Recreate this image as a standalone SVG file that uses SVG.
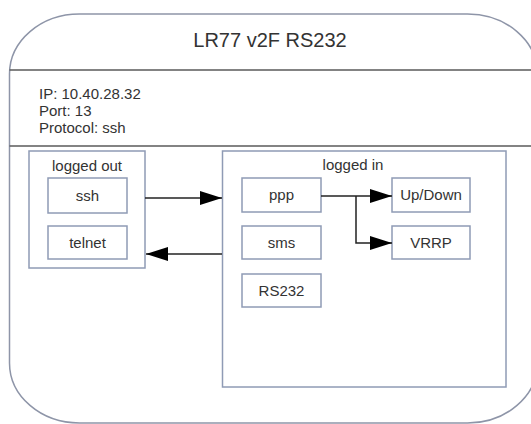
<svg xmlns="http://www.w3.org/2000/svg" width="531" height="424" viewBox="0 0 531 424">
  <style>
    .frame { fill: #ffffff; stroke: #8e95a8; stroke-width: 1.5; }
    .divider { stroke: #5a5a5a; stroke-width: 1.5; }
    .box { fill: #ffffff; stroke: #8f9bb5; stroke-width: 1.5; }
    .txt { font-family: "Liberation Sans", Arial, sans-serif; fill: #333333; }
    .label { font-size: 15px; text-anchor: middle; }
    .title { font-size: 20px; text-anchor: middle; }
    .info { font-size: 15px; }
    .conn { fill: none; stroke: #222222; stroke-width: 1.5; }
  </style>
  <defs>
    <marker id="arrow" viewBox="0 0 22 14" refX="22" refY="7" markerWidth="22" markerHeight="14" markerUnits="userSpaceOnUse" orient="auto">
      <path d="M0,0 L22,7 L0,14 Z" fill="#000000"/>
    </marker>
  </defs>

  <rect width="531" height="424" fill="#ffffff"/>

  <!-- device frame -->
  <g id="device">
    <rect class="frame" x="9.5" y="14" width="528" height="409" rx="70" ry="60"/>
    <line class="divider" x1="9.5" y1="70" x2="531" y2="70"/>
    <line class="divider" x1="9.5" y1="146" x2="531" y2="146"/>
    <text class="txt title" x="270" y="47">LR77 v2F RS232</text>
    <text class="txt info" x="39" y="99">IP: 10.40.28.32</text>
    <text class="txt info" x="39" y="116">Port: 13</text>
    <text class="txt info" x="39" y="133">Protocol: ssh</text>
  </g>

  <!-- logged out state -->
  <g id="logged-out">
    <rect class="box" x="29" y="151" width="116" height="117"/>
    <text class="txt label" x="87" y="171">logged out</text>
  </g>
  <g id="ssh">
    <rect class="box" x="48" y="178" width="79" height="35"/>
    <text class="txt label" x="87.5" y="201">ssh</text>
  </g>
  <g id="telnet">
    <rect class="box" x="48" y="226" width="79" height="33"/>
    <text class="txt label" x="87.5" y="248">telnet</text>
  </g>

  <!-- logged in state -->
  <g id="logged-in">
    <rect class="box" x="222.5" y="151" width="283.5" height="236"/>
    <text class="txt label" x="353" y="170">logged in</text>
  </g>
  <g id="ppp">
    <rect class="box" x="242" y="178" width="79" height="34"/>
    <text class="txt label" x="281.5" y="200">ppp</text>
  </g>
  <g id="sms">
    <rect class="box" x="242" y="226" width="79" height="33"/>
    <text class="txt label" x="281.5" y="248">sms</text>
  </g>
  <g id="rs232">
    <rect class="box" x="242" y="274" width="79" height="33"/>
    <text class="txt label" x="281.5" y="296">RS232</text>
  </g>
  <g id="updown">
    <rect class="box" x="392" y="178" width="78" height="34"/>
    <text class="txt label" x="431" y="200">Up/Down</text>
  </g>
  <g id="vrrp">
    <rect class="box" x="392" y="226" width="78" height="33"/>
    <text class="txt label" x="431" y="248">VRRP</text>
  </g>

  <!-- transitions -->
  <g id="connectors">
    <path class="conn" d="M145,198 L222,198" marker-end="url(#arrow)"/>
    <path class="conn" d="M222,254 L146,254" marker-end="url(#arrow)"/>
    <path class="conn" d="M321,196 L392,196" marker-end="url(#arrow)"/>
    <path class="conn" d="M356,196 L356,243 L392,243" marker-end="url(#arrow)"/>
  </g>
</svg>
